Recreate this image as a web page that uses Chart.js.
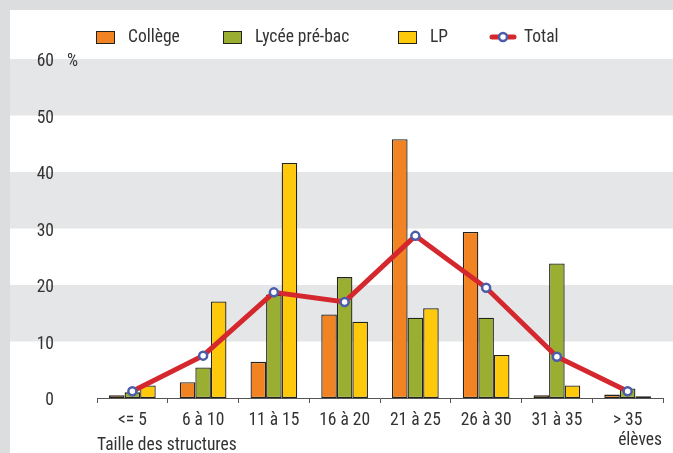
<!DOCTYPE html>
<html><head><meta charset="utf-8">
<script src="https://cdn.jsdelivr.net/npm/chart.js@4"></script>
<style>html,body{margin:0;padding:0;background:#dcdddf;overflow:hidden}#wrap{width:673px;height:453px;position:relative}</style>
</head><body><div id="wrap"><canvas id="c" width="673" height="453"></canvas></div>
<script>
const categories = ['<= 5','6 à 10','11 à 15','16 à 20','21 à 25','26 à 30','31 à 35','> 35'];
const college = [0.5, 2.8, 6.4, 14.8, 45.8, 29.4, 0.5, 0.6];
const lycee   = [1.0, 5.4, 18.3, 21.4, 14.2, 14.2, 23.8, 1.7];
const lp      = [2.2, 17.1, 41.6, 13.5, 15.9, 7.6, 2.2, 0.3];
const total   = [1.2, 7.5, 18.7, 17.0, 28.7, 19.5, 7.3, 1.2];
const yTicks  = [0, 10, 20, 30, 40, 50, 60];
const seriesNames = ['Collège', 'Lycée pré-bac', 'LP', 'Total'];
const xAxisTitle = 'Taille des structures';
const xUnit = 'élèves';
const yUnit = '%';

const FONT = "'Liberation Sans Narrow','Roboto Condensed','DejaVu Sans Condensed','Liberation Sans',sans-serif";
const COLORS = {college:'#f28322', lycee:'#9aae32', lp:'#ffc90b', line:'#d5282e', pt:'#4b5ca9', border:'#23221c', text:'#333333'};

const bgPlugin = {
  id: 'bg',
  beforeDraw(chart) {
    const ctx = chart.ctx, y = chart.scales.y;
    ctx.save();
    ctx.fillStyle = '#dcdddf';
    ctx.fillRect(0, 0, chart.width, chart.height);
    ctx.fillStyle = '#ffffff';
    ctx.fillRect(10, 10, chart.width - 10, chart.height - 10);
    ctx.fillStyle = '#e5e6e8';
    for (let i = 1; i < yTicks.length; i += 2) {
      const top = y.getPixelForValue(yTicks[i + 1]);
      const bot = y.getPixelForValue(yTicks[i]);
      ctx.fillRect(10, top, chart.width - 10, bot - top);
    }
    ctx.restore();
  },
  afterDraw(chart) {
    const ctx = chart.ctx, y = chart.scales.y;
    ctx.save();
    ctx.font = '17.5px ' + FONT;
    ctx.fillStyle = COLORS.text;
    ctx.textBaseline = 'middle';
    ctx.textAlign = 'left';
    ctx.fillText(yUnit, 67, y.getPixelForValue(yTicks[yTicks.length - 1]) + 3);
    ctx.textAlign = 'right';
    ctx.fillText(xUnit, 662, 441);
    // legend
    const ly = 37;
    ctx.textAlign = 'left';
    const items = [
      {x: 96, c: COLORS.college, t: seriesNames[0]},
      {x: 223, c: COLORS.lycee, t: seriesNames[1]},
      {x: 398, c: COLORS.lp, t: seriesNames[2]}
    ];
    items.forEach(it => {
      ctx.fillStyle = it.c;
      ctx.fillRect(it.x, ly - 6, 18, 12);
      ctx.strokeStyle = COLORS.border;
      ctx.lineWidth = 1;
      ctx.strokeRect(it.x + 0.5, ly - 5.5, 18, 12);
      ctx.fillStyle = COLORS.text;
      ctx.fillText(it.t, it.x + 32, ly + 1);
    });
    ctx.strokeStyle = COLORS.line;
    ctx.lineWidth = 5;
    ctx.lineCap = 'round';
    ctx.beginPath(); ctx.moveTo(492, ly); ctx.lineTo(514, ly); ctx.stroke();
    ctx.beginPath(); ctx.arc(503, ly, 4, 0, Math.PI * 2);
    ctx.fillStyle = '#fff'; ctx.fill();
    ctx.lineWidth = 2.5; ctx.strokeStyle = COLORS.pt; ctx.stroke();
    ctx.fillStyle = COLORS.text;
    ctx.fillText(seriesNames[3], 524, ly + 1);
    ctx.restore();
  }
};

const barCommon = {borderColor: COLORS.border, borderWidth: 1.3, borderSkipped: false, categoryPercentage: 0.66, barPercentage: 1.0, order: 2};

new Chart(document.getElementById('c'), {
  data: {
    labels: categories,
    datasets: [
      Object.assign({type: 'bar', label: seriesNames[0], data: college, backgroundColor: COLORS.college}, barCommon),
      Object.assign({type: 'bar', label: seriesNames[1], data: lycee, backgroundColor: COLORS.lycee}, barCommon),
      Object.assign({type: 'bar', label: seriesNames[2], data: lp, backgroundColor: COLORS.lp}, barCommon),
      {type: 'line', label: seriesNames[3], data: total, borderColor: COLORS.line, borderWidth: 5,
       pointRadius: 4, pointBorderWidth: 2.5, pointBackgroundColor: '#ffffff', pointBorderColor: COLORS.pt,
       tension: 0, order: 0}
    ]
  },
  options: {
    responsive: false,
    animation: false,
    devicePixelRatio: 1,
    layout: {padding: {top: 59, right: 10, left: 0, bottom: 0}},
    plugins: {legend: {display: false}, tooltip: {enabled: false}},
    scales: {
      x: {
        grid: {display: true, drawOnChartArea: false, drawTicks: true, tickLength: 5, color: '#555', offset: true},
        border: {display: true, color: '#555', width: 1},
        ticks: {font: {size: 17.5, family: FONT}, color: COLORS.text, padding: 7, maxRotation: 0, autoSkip: false},
        title: {display: true, text: xAxisTitle, align: 'start', font: {size: 17.5, family: FONT}, color: COLORS.text, padding: {top: 0, bottom: -3}},
        afterFit(s) { s.height = 55; }
      },
      y: {
        min: 0, max: 60,
        grid: {display: false},
        border: {display: false},
        ticks: {stepSize: 10, font: {size: 17.5, family: FONT}, color: COLORS.text, padding: 35, labelOffset: 3},
        afterFit(s) { s.width = 97; }
      }
    }
  },
  plugins: [bgPlugin]
});
</script></body></html>
